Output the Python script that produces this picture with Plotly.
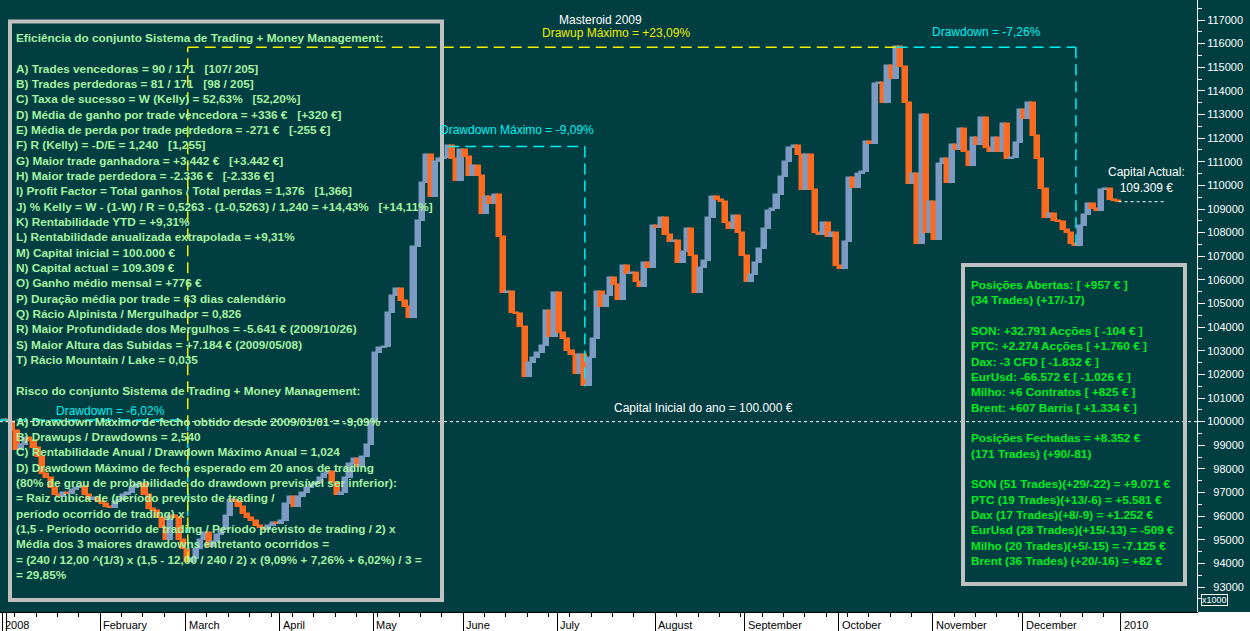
import numpy as np
import pandas as pd
import plotly.graph_objects as go

# ---------------- data ----------------
# daily closing capital (thousands of EUR), one value per business day 2008-12-31 .. 2009-12-31
close_k = [
    100.07, 100.0, 99.6, 98.8, 99.0, 99.3, 99.2, 98.9, 98.5, 97.8, 97.6, 97.2, 96.9, 96.8, 97.0, 96.95,
    97.1, 97.2, 97.25, 96.9, 96.7, 96.75, 96.6,
    96.5, 96.4, 96.35, 96.6, 96.7, 96.9, 97.0, 97.2, 97.3, 97.35, 96.9, 96.3, 96.2, 95.9, 95.5, 95.0,
    96.0, 95.9, 95.0, 94.6,
    94.05, 94.2, 94.6, 95.0, 95.3, 94.7, 94.9, 95.2, 95.4, 96.0, 96.7, 96.6, 96.4, 96.1, 95.9, 95.8,
    95.6, 95.5, 95.4, 95.6, 95.7, 95.65,
    95.8, 96.5, 96.8, 96.4, 96.8, 97.0, 97.2, 97.3, 97.4, 97.6, 97.8, 97.85, 97.4, 96.9, 97.0, 97.6,
    98.2, 98.4, 98.1, 98.5, 99.0, 100.0,
    102.9, 103.1, 103.15, 104.6, 105.3, 105.6, 105.1, 104.85, 104.4, 107.4, 108.5, 110.1, 111.3, 109.5,
    111.0, 111.1, 111.15, 111.65, 111.1, 110.2, 111.5,
    111.2, 110.4, 110.8, 110.4, 108.8, 109.5, 109.2, 109.6, 107.8, 105.45, 105.5, 104.6, 104.55, 104.0,
    101.9, 102.5, 102.7, 102.9, 103.2, 104.7, 103.6, 105.45,
    103.75, 103.5, 103.0, 102.8, 102.0, 102.8, 101.5, 102.7, 103.5, 105.5, 104.85, 105.3, 106.1, 105.8,
    105.15, 106.6, 106.25, 106.3, 105.9, 105.7, 106.7, 106.5, 108.3,
    108.2, 108.6, 107.9, 107.6, 107.65, 106.7, 107.2, 108.15, 107.0, 105.45, 106.5, 106.8, 108.6, 109.5,
    109.4, 109.3, 108.4, 108.15, 108.7, 108.0, 107.0,
    105.9, 106.2, 106.7, 107.3, 108.15, 108.9, 109.0, 109.6, 110.35, 111.0, 111.6, 111.65, 111.3, 109.8,
    111.3, 109.8, 108.0, 107.9, 108.4, 107.8, 108.0, 106.6,
    106.45, 107.6, 110.3, 109.9, 110.5, 110.55, 111.85, 111.75, 114.3, 114.35, 113.5, 115.05, 114.5,
    115.85, 115.0, 113.5, 110.05, 110.5, 107.5, 113.0, 108.0, 109.3,
    107.7, 110.9, 111.1, 110.1, 111.7, 111.5, 112.4, 111.4, 110.8, 112.0, 111.7, 112.85, 111.6, 111.4,
    112.0, 111.4, 112.6, 111.1, 111.15, 111.8, 113.2,
    112.8, 113.5, 112.1, 111.1, 109.85, 108.6, 108.8, 108.5, 108.45, 108.1, 108.0, 107.5, 107.43, 108.3,
    108.75, 109.2, 109.0, 108.9, 109.8, 109.85, 109.4, 109.35, 109.309,
]
dates = pd.bdate_range("2008-12-31", "2009-12-31")

month_names = ["2008", "February", "March", "April", "May", "June", "July", "August",
               "September", "October", "November", "December", "2010"]

ytick_values = list(range(93000, 118000, 1000))

left_lines = [
    "Eficiência do conjunto Sistema de Trading + Money Management:",
    "",
    "A) Trades vencedoras = 90 / 171   [107/ 205]",
    "B) Trades perdedoras = 81 / 171   [98 / 205]",
    "C) Taxa de sucesso = W (Kelly) = 52,63%   [52,20%]",
    "D) Média de ganho por trade vencedora = +336 €   [+320 €]",
    "E) Média de perda por trade perdedora = -271 €   [-255 €]",
    "F) R (Kelly) = -D/E = 1,240   [1,255]",
    "G) Maior trade ganhadora = +3.442 €   [+3.442 €]",
    "H) Maior trade perdedora = -2.336 €   [-2.336 €]",
    "I) Profit Factor = Total ganhos / Total perdas = 1,376   [1,366]",
    "J) % Kelly = W - (1-W) / R = 0,5263 - (1-0,5263) / 1,240 = +14,43%   [+14,11%]",
    "K) Rentabilidade YTD = +9,31%",
    "L) Rentabilidade anualizada extrapolada = +9,31%",
    "M) Capital inicial = 100.000 €",
    "N) Capital actual = 109.309 €",
    "O) Ganho médio mensal = +776 €",
    "P) Duração média por trade = 63 dias calendário",
    "Q) Rácio Alpinista / Mergulhador = 0,826",
    "R) Maior Profundidade dos Mergulhos = -5.641 € (2009/10/26)",
    "S) Maior Altura das Subidas = +7.184 € (2009/05/08)",
    "T) Rácio Mountain / Lake = 0,035",
    "",
    "Risco do conjunto Sistema de Trading + Money Management:",
    "",
    "A) Drawdown Máximo de fecho obtido desde 2009/01/01 = -9,09%",
    "B) Drawups / Drawdowns = 2,540",
    "C) Rentabilidade Anual / Drawdown Máximo Anual = 1,024",
    "D) Drawdown Máximo de fecho esperado em 20 anos de trading",
    "(80% de grau de probabilidade do drawdown previsível ser inferior):",
    "= Raiz cúbica de (período previsto de trading /",
    "período ocorrido de trading) x",
    "(1,5 - Período ocorrido de trading / Período previsto de trading / 2) x",
    "Média dos 3 maiores drawdowns entretanto ocorridos =",
    "= (240 / 12,00 ^(1/3) x (1,5 - 12,00 / 240 / 2) x (9,09% + 7,26% + 6,02%) / 3 =",
    "= 29,85%",
]

right_lines = [
    "Posições Abertas: [ +957 € ]",
    "(34 Trades) (+17/-17)",
    "",
    "SON: +32.791 Acções [ -104 € ]",
    "PTC: +2.274 Acções [ +1.760 € ]",
    "Dax: -3 CFD [ -1.832 € ]",
    "EurUsd: -66.572 € [ -1.026 € ]",
    "Milho: +6 Contratos [ +825 € ]",
    "Brent: +607 Barris [ +1.334 € ]",
    "",
    "Posições Fechadas = +8.352 €",
    "(171 Trades) (+90/-81)",
    "",
    "SON (51 Trades)(+29/-22) = +9.071 €",
    "PTC (19 Trades)(+13/-6) = +5.581 €",
    "Dax (17 Trades)(+8/-9) = +1.252 €",
    "EurUsd (28 Trades)(+15/-13) = -509 €",
    "Milho (20 Trades)(+5/-15) = -7.125 €",
    "Brent (36 Trades) (+20/-16) = +82 €",
]

# ---------------- styling ----------------
BG = "#003e41"
UP = "#7d9bc2"
DOWN = "#ff6a21"
LEFT_TXT = "#a6f2a0"
RIGHT_TXT = "#00ec22"
CYAN = "#00f0f0"
YELLOW = "#f0f000"
FONT = "Liberation Sans"

W, H = 1250, 631
ML, MR, MT, MB = 0, 53, 0, 19
PW, PH = W - ML - MR, H - MT - MB


def px_x(p):
    return p / PW


def px_y(p):
    return 1 - p / PH


close = np.array(close_k) * 1000.0
n = len(close)
idx = np.arange(n)
open_ = np.concatenate([[close[0]], close[:-1]])
colors = np.where(close >= open_, UP, DOWN)

fig = go.Figure()
fig.add_trace(go.Bar(
    x=idx, base=open_, y=close - open_, width=1.2,
    marker=dict(color=list(colors), line=dict(color=list(colors), width=1.5)),
    hoverinfo="skip",
))

# month ticks
starts = [0] + [i for i in range(1, n) if dates[i].month != dates[i - 1].month] + [n]
label_pos = [starts[0]] + starts[2:]
mondays = [i - 0.5 for i in range(n) if dates[i].weekday() == 0 and i not in starts]

# drawdown / drawup geometry derived from data
i_min = int(np.argmin(close))
i_max = int(np.argmax(close))
p_pre = int(np.argmax(close[:i_min + 1]))
dd = close / np.maximum.accumulate(close) - 1
t_mdd = int(np.argmin(dd))
p_mdd = int(np.argmax(close[:t_mdd + 1]))
t_post = i_max + int(np.argmin(close[i_max:]))

shapes = []
dash = "11px,6px"


def seg(x0, y0, x1, y1, color, width=1.5, d=dash):
    shapes.append(dict(type="line", xref="x", yref="y", x0=x0, y0=y0, x1=x1, y1=y1,
                       line=dict(color=color, width=width, dash=d), layer="above"))


# capital inicial line
shapes.append(dict(type="line", xref="paper", yref="y", x0=0, x1=1, y0=close[0] - 70, y1=close[0] - 70,
                   line=dict(color="white", width=1, dash="3px,3px"), layer="above"))
# drawdown -6.02%
seg(p_pre - 1, close[p_pre], i_min, close[p_pre], CYAN)
seg(i_min, close[p_pre], i_min, close[i_min], CYAN)
# drawdown maximo
seg(p_mdd, close[p_mdd], t_mdd, close[p_mdd], CYAN)
seg(t_mdd, close[p_mdd], t_mdd, close[t_mdd], CYAN)
# drawdown -7.26%
seg(i_max, close[i_max], t_post, close[i_max], CYAN)
seg(t_post, close[i_max], t_post, close[t_post], CYAN)
# drawup
seg(i_min, close[i_min], i_min, close[i_max], YELLOW)
seg(i_min, close[i_max], i_max, close[i_max], YELLOW)
# capital actual
seg(n - 1, close[-1], n + 10, close[-1], "white", 1, "3px,3px")

# boxes
shapes.append(dict(type="rect", xref="paper", yref="paper", x0=px_x(10), x1=px_x(442),
                   y0=px_y(600), y1=px_y(21.5), line=dict(color="#c0c0c0", width=4), layer="above"))
shapes.append(dict(type="rect", xref="paper", yref="paper", x0=px_x(963), x1=px_x(1185),
                   y0=px_y(584), y1=px_y(265), line=dict(color="#c0c0c0", width=4), layer="above"))
# white date strip
shapes.append(dict(type="rect", xref="paper", yref="paper", x0=-0.01, x1=W / PW + 0.01,
                   y0=-MB / PH - 0.01, y1=0, fillcolor="white", line=dict(width=0), layer="below"))

ann = []


def nb(s):
    return s.replace("   ", "\u00a0\u00a0\u00a0")


ann.append(dict(xref="paper", yref="paper", x=px_x(14), y=px_y(28.5), xanchor="left", yanchor="top",
                align="left", showarrow=False, text="<br>".join(nb(s) for s in left_lines),
                font=dict(family=FONT, size=11.8, color=LEFT_TXT, weight="bold")))
ann.append(dict(xref="paper", yref="paper", x=px_x(969), y=px_y(276.5), xanchor="left", yanchor="top",
                align="left", showarrow=False, text="<br>".join(right_lines),
                font=dict(family=FONT, size=11.8, color=RIGHT_TXT, weight="bold")))

# month labels
for pos, name in zip(label_pos, month_names):
    ann.append(dict(xref="x", yref="paper", x=pos - 0.5, y=px_y(PH + 12.5), xanchor="left", yanchor="middle",
                    xshift=1, showarrow=False, text=name, font=dict(family=FONT, size=11, color="black")))

# chart labels
ann.append(dict(xref="paper", yref="paper", x=px_x(600), y=px_y(11), showarrow=False,
                text="Masteroid 2009", font=dict(family=FONT, size=12, color="white")))
ann.append(dict(xref="paper", yref="paper", x=px_x(616), y=px_y(24), showarrow=False,
                text="Drawup Máximo = +23,09%", font=dict(family=FONT, size=12, color=YELLOW)))
ann.append(dict(xref="x", yref="y", x=(i_max + t_post) / 2, y=close[i_max], yshift=15, showarrow=False,
                text="Drawdown = -7,26%", font=dict(family=FONT, size=12, color=CYAN)))
ann.append(dict(xref="x", yref="y", x=(p_mdd + t_mdd) / 2, y=close[p_mdd], yshift=16, showarrow=False,
                text="Drawdown Máximo = -9,09%", font=dict(family=FONT, size=12, color=CYAN)))
ann.append(dict(xref="x", yref="y", x=(p_pre + i_min) / 2, y=close[p_pre], xshift=15, yshift=9,
                showarrow=False, text="Drawdown = -6,02%", font=dict(family=FONT, size=12, color=CYAN)))
ann.append(dict(xref="paper", yref="y", x=px_x(703), y=100000, yshift=14, showarrow=False,
                text="Capital Inicial do ano = 100.000 €", font=dict(family=FONT, size=12, color="white")))
ann.append(dict(xref="x", yref="y", x=n - 1, y=close[-1], xshift=28, yshift=22, showarrow=False,
                text="Capital Actual:<br>109.309 €", font=dict(family=FONT, size=12, color="white")))
ann.append(dict(xref="paper", yref="paper", x=px_x(1201), y=px_y(606), xanchor="left", showarrow=False,
                text="x1000", font=dict(family=FONT, size=9, color="white"),
                bordercolor="white", borderwidth=1, borderpad=0))

px_per_bar = 4.27
x0_range = -2 / px_per_bar - 0.5
x1_range = x0_range + PW / px_per_bar
y_hi = 117000 + 20 * 1000 / 23.625
y_lo = y_hi - PH * 1000 / 23.625

fig.update_layout(
    width=W, height=H, margin=dict(l=ML, r=MR, t=MT, b=MB),
    paper_bgcolor=BG, plot_bgcolor=BG, showlegend=False, barmode="overlay", bargap=0,
    shapes=shapes, annotations=ann,
    xaxis=dict(range=[x0_range, x1_range], showgrid=False, zeroline=False,
               tickmode="array", tickvals=[s - 0.5 for s in starts], showticklabels=False,
               ticks="outside", ticklen=MB, tickcolor="black", tickwidth=1,
               showline=True, linecolor="black", linewidth=1,
               minor=dict(tickmode="array", tickvals=mondays, ticks="outside", ticklen=4,
                          tickcolor="black", tickwidth=1)),
    yaxis=dict(range=[y_lo, y_hi], side="right", showgrid=False, zeroline=False,
               tickmode="array", tickvals=ytick_values,
               ticktext=[("\u2007" if v < 100000 else "") + str(v) for v in ytick_values],
               ticks="outside", ticklen=7, tickcolor="white", tickwidth=1,
               tickfont=dict(family=FONT, size=11, color="white"),
               showline=True, linecolor="white", linewidth=1,
               minor=dict(tickmode="array", tickvals=[v + 500 for v in [92000] + ytick_values],
                          ticks="outside", ticklen=4, tickcolor="white", tickwidth=1)),
)

fig.write_html("out.html", config={"displayModeBar": False},
               post_script="document.body.style.margin='0';document.body.style.overflow='hidden';")
